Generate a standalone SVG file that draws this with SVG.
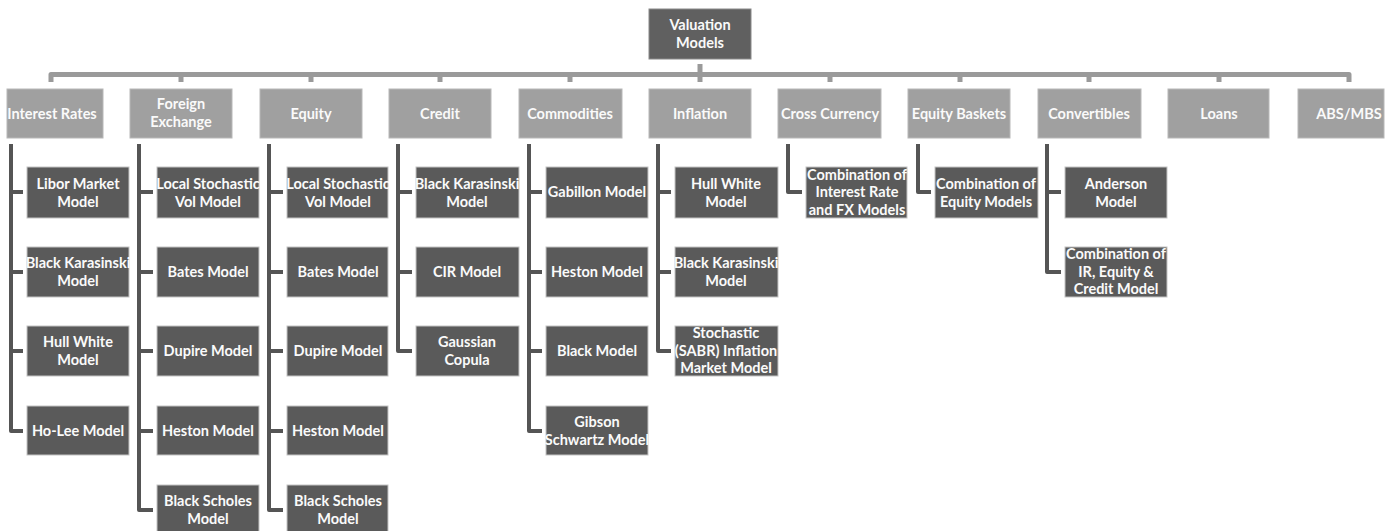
<svg xmlns="http://www.w3.org/2000/svg" width="1390" height="531" viewBox="0 0 1390 531">
<style>
.root{fill:#606060;stroke:#8a8a8a;stroke-width:1}
.l1{fill:#a0a0a0;stroke:#b8b8b8;stroke-width:1}
.l2{fill:#5a5a5a;stroke:#c4c4c4;stroke-width:1}
text{fill:#fafafa;font-family:Lato,"Liberation Sans",sans-serif;font-weight:bold;font-size:14.5px;text-anchor:middle}
.bar{fill:none;stroke:#9a9a9a;stroke-width:5;stroke-linejoin:round}
.cn{fill:none;stroke:#555555;stroke-width:4;stroke-linejoin:round}
</style>
<rect width="1390" height="531" fill="#ffffff"/>
<g id="connectors">
<path class="bar" d="M51,82 V74.5 H1349 V82"/>
<path class="bar" d="M181,74.5 V82 M311,74.5 V82 M440,74.5 V82 M570,74.5 V82 M830,74.5 V82 M960,74.5 V82 M1089,74.5 V82 M1219,74.5 V82"/>
<path class="bar" d="M700,64 V82"/>
<path class="cn" d="M11,144 V431 H23 M11,192 H23 M11,272 H23 M11,351 H23"/>
<path class="cn" d="M139,144 V510 H153 M139,192 H153 M139,272 H153 M139,351 H153 M139,431 H153"/>
<path class="cn" d="M269,144 V510 H283 M269,192 H283 M269,272 H283 M269,351 H283 M269,431 H283"/>
<path class="cn" d="M398,144 V351 H412 M398,192 H412 M398,272 H412"/>
<path class="cn" d="M529,144 V431 H542 M529,192 H542 M529,272 H542 M529,351 H542"/>
<path class="cn" d="M658,144 V351 H671 M658,192 H671 M658,272 H671"/>
<path class="cn" d="M788,144 V192 H802"/>
<path class="cn" d="M918,144 V192 H931"/>
<path class="cn" d="M1047,144 V272 H1061 M1047,192 H1061"/>
</g>
<g id="root"><rect class="root" x="649" y="9" width="102" height="50"/><text x="700" y="30">Valuation</text><text x="700" y="48">Models</text></g>
<g id="interest-rates"><rect class="l1" x="7" y="89" width="96" height="49"/><text x="52" y="119">Interest Rates</text></g>
<g id="foreign-exchange"><rect class="l1" x="130" y="89" width="102" height="49"/><text x="181" y="109">Foreign</text><text x="181" y="127">Exchange</text></g>
<g id="equity"><rect class="l1" x="260" y="89" width="102" height="49"/><text x="311" y="119">Equity</text></g>
<g id="credit"><rect class="l1" x="389" y="89" width="102" height="49"/><text x="440" y="119">Credit</text></g>
<g id="commodities"><rect class="l1" x="519" y="89" width="103" height="49"/><text x="570" y="119">Commodities</text></g>
<g id="inflation"><rect class="l1" x="649" y="89" width="102" height="49"/><text x="700" y="119">Inflation</text></g>
<g id="cross-currency"><rect class="l1" x="778" y="89" width="103" height="49"/><text x="830" y="119">Cross Currency</text></g>
<g id="equity-baskets"><rect class="l1" x="908" y="89" width="102" height="49"/><text x="959" y="119">Equity Baskets</text></g>
<g id="convertibles"><rect class="l1" x="1038" y="89" width="103" height="49"/><text x="1089" y="119">Convertibles</text></g>
<g id="loans"><rect class="l1" x="1168" y="89" width="101" height="49"/><text x="1219" y="119">Loans</text></g>
<g id="abs-mbs"><rect class="l1" x="1298" y="89" width="86" height="49"/><text x="1349" y="119">ABS/MBS</text></g>

<g id="ir-libor"><rect class="l2" x="27" y="167" width="102" height="51"/><text x="78" y="189">Libor Market</text><text x="78" y="207">Model</text></g>
<g id="ir-bk"><rect class="l2" x="27" y="247" width="102" height="50"/><text x="78" y="268">Black Karasinski</text><text x="78" y="286">Model</text></g>
<g id="ir-hw"><rect class="l2" x="27" y="326" width="102" height="50"/><text x="78" y="347">Hull White</text><text x="78" y="365">Model</text></g>
<g id="ir-holee"><rect class="l2" x="27" y="406" width="102" height="49"/><text x="78" y="436">Ho-Lee Model</text></g>

<g id="fx-lsv"><rect class="l2" x="157" y="167" width="102" height="51"/><text x="208" y="189">Local Stochastic</text><text x="208" y="207">Vol Model</text></g>
<g id="fx-bates"><rect class="l2" x="157" y="247" width="102" height="50"/><text x="208" y="277">Bates Model</text></g>
<g id="fx-dupire"><rect class="l2" x="157" y="326" width="102" height="50"/><text x="208" y="356">Dupire Model</text></g>
<g id="fx-heston"><rect class="l2" x="157" y="406" width="102" height="49"/><text x="208" y="436">Heston Model</text></g>
<g id="fx-bs"><rect class="l2" x="157" y="485" width="102" height="50"/><text x="208" y="506">Black Scholes</text><text x="208" y="524">Model</text></g>

<g id="eq-lsv"><rect class="l2" x="287" y="167" width="101" height="51"/><text x="338" y="189">Local Stochastic</text><text x="338" y="207">Vol Model</text></g>
<g id="eq-bates"><rect class="l2" x="287" y="247" width="101" height="50"/><text x="338" y="277">Bates Model</text></g>
<g id="eq-dupire"><rect class="l2" x="287" y="326" width="101" height="50"/><text x="338" y="356">Dupire Model</text></g>
<g id="eq-heston"><rect class="l2" x="287" y="406" width="101" height="49"/><text x="338" y="436">Heston Model</text></g>
<g id="eq-bs"><rect class="l2" x="287" y="485" width="101" height="50"/><text x="338" y="506">Black Scholes</text><text x="338" y="524">Model</text></g>

<g id="cr-bk"><rect class="l2" x="416" y="167" width="103" height="51"/><text x="467" y="189">Black Karasinski</text><text x="467" y="207">Model</text></g>
<g id="cr-cir"><rect class="l2" x="416" y="247" width="103" height="50"/><text x="467" y="277">CIR Model</text></g>
<g id="cr-gauss"><rect class="l2" x="416" y="326" width="103" height="50"/><text x="467" y="347">Gaussian</text><text x="467" y="365">Copula</text></g>

<g id="co-gabillon"><rect class="l2" x="546" y="167" width="102" height="51"/><text x="597" y="197">Gabillon Model</text></g>
<g id="co-heston"><rect class="l2" x="546" y="247" width="102" height="50"/><text x="597" y="277">Heston Model</text></g>
<g id="co-black"><rect class="l2" x="546" y="326" width="102" height="50"/><text x="597" y="356">Black Model</text></g>
<g id="co-gibson"><rect class="l2" x="546" y="406" width="102" height="49"/><text x="597" y="427">Gibson</text><text x="597" y="445">Schwartz Model</text></g>

<g id="in-hw"><rect class="l2" x="675" y="167" width="103" height="51"/><text x="726" y="189">Hull White</text><text x="726" y="207">Model</text></g>
<g id="in-bk"><rect class="l2" x="675" y="247" width="103" height="50"/><text x="726" y="268">Black Karasinski</text><text x="726" y="286">Model</text></g>
<g id="in-sabr"><rect class="l2" x="675" y="326" width="103" height="50"/><text x="726" y="338">Stochastic</text><text x="726" y="356">(SABR) Inflation</text><text x="726" y="373">Market Model</text></g>

<g id="cc-combo"><rect class="l2" x="806" y="167" width="101" height="51"/><text x="857" y="180">Combination of</text><text x="857" y="197">Interest Rate</text><text x="857" y="215">and FX Models</text></g>
<g id="eb-combo"><rect class="l2" x="935" y="167" width="103" height="51"/><text x="986" y="189">Combination of</text><text x="986" y="207">Equity Models</text></g>
<g id="cv-anderson"><rect class="l2" x="1065" y="167" width="102" height="51"/><text x="1116" y="189">Anderson</text><text x="1116" y="207">Model</text></g>
<g id="cv-combo"><rect class="l2" x="1065" y="247" width="102" height="50"/><text x="1116" y="259">Combination of</text><text x="1116" y="277">IR, Equity &amp;</text><text x="1116" y="294">Credit Model</text></g>
</svg>
